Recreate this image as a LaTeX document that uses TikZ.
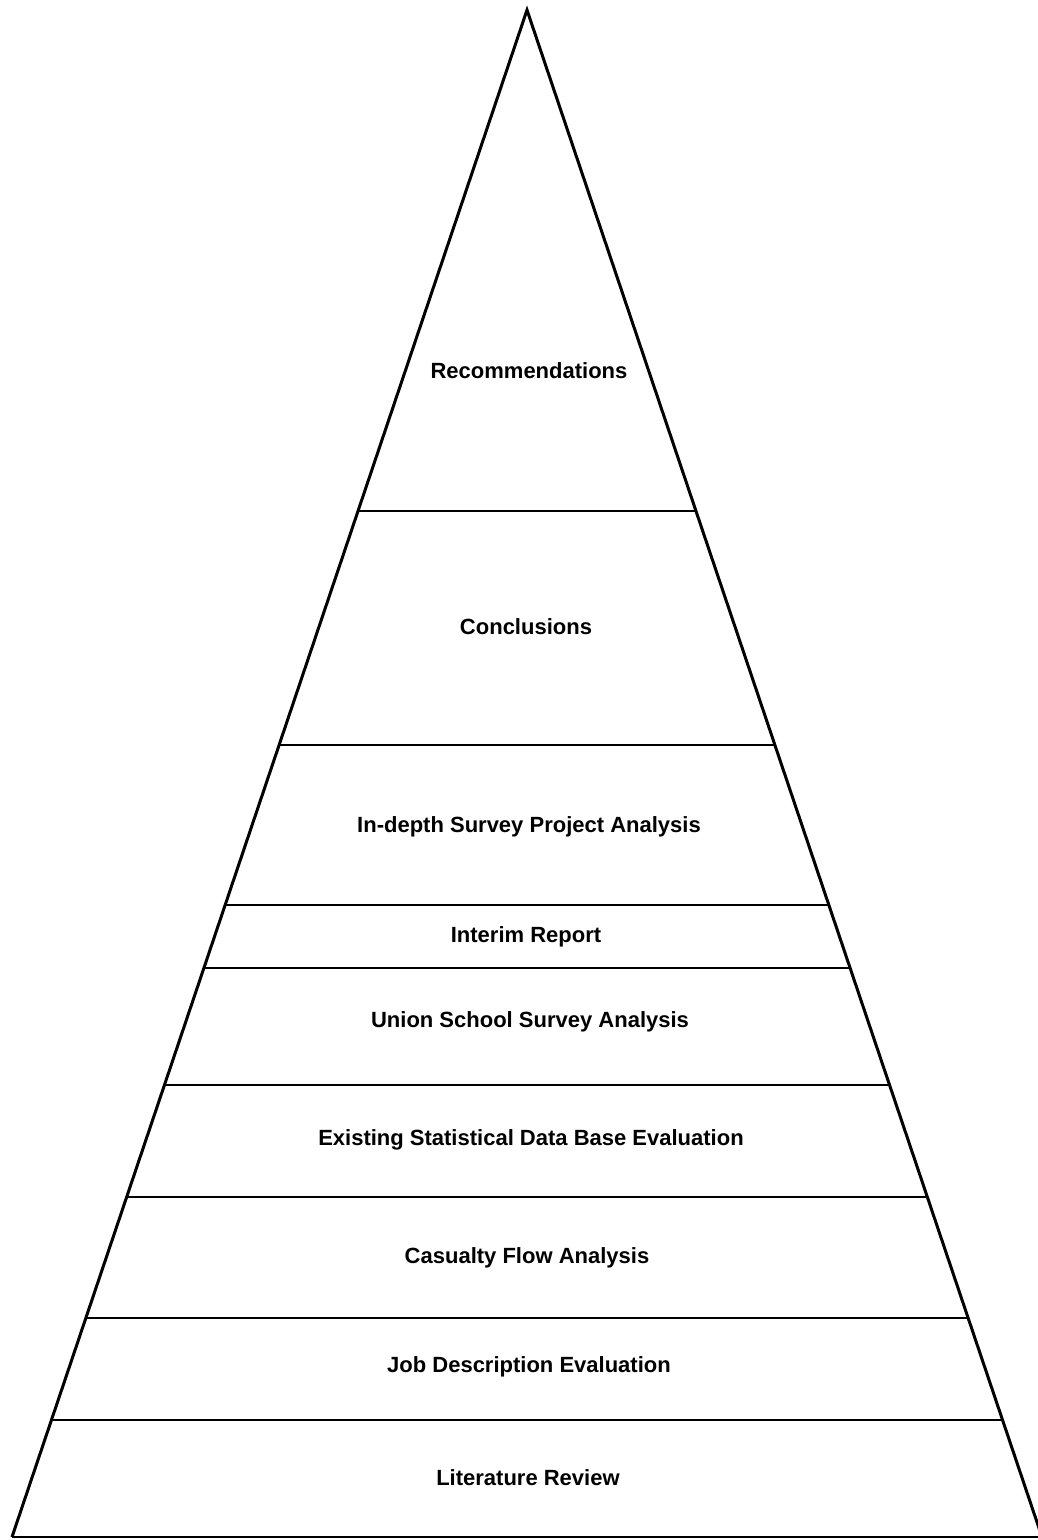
\documentclass[tikz,border=0pt]{standalone}
\usepackage{fontspec}
\setmainfont{Liberation Sans}
\usepackage{tikz}

\begin{document}
\begin{tikzpicture}[x=1pt,y=-1pt]
            \tikzstyle{every node}+=[inner sep=0pt,font=\fontsize{22}{26}\selectfont\bfseries]
            \tikzstyle{side}=[black,line width=3pt,line join=miter]
            \tikzstyle{tier}=[black,line width=1.8pt]
            \useasboundingbox (0,0) rectangle (1037,1540);
            \coordinate (apex) at (527,10);
            \coordinate (baseL) at (12,1537);
            \coordinate (baseR) at (1042,1537);
            \draw [side] (baseL) -- (apex) -- (baseR);
            \draw [tier] (baseL) -- (baseR);
            % tier boundaries
            \foreach \y in {511,745,905,968,1085,1197,1318,1420}
              \draw [tier] ({527-(\y-10)*0.3373},\y) -- ({527+(\y-10)*0.3373},\y);
            \node (rec) at (529,371) {Recommendations};
            \node (con) at (526,627) {Conclusions};
            \node (ind) at (529,827) {In-depth Survey Project Analysis};
            \node (int) at (526,937) {Interim Report};
            \node (uni) at (530,1022) {Union School Survey Analysis};
            \node (exi) at (531,1140) {Existing Statistical Data Base Evaluation};
            \node (cas) at (527,1258) {Casualty Flow Analysis};
            \node (job) at (529,1367) {Job Description Evaluation};
            \node (lit) at (528,1478) {Literature Review};
\end{tikzpicture}
\end{document}
